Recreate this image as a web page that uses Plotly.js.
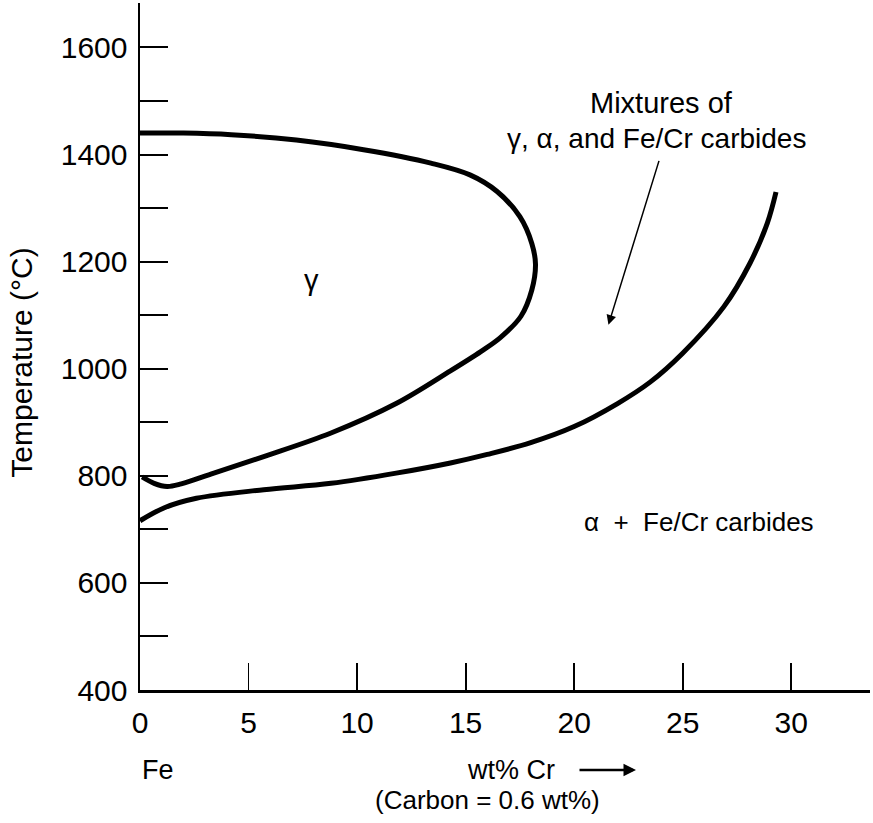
<!DOCTYPE html>
<html>
<head>
<meta charset="utf-8">
<script src="https://cdn.plot.ly/plotly-3.0.1.min.js"></script>
<style>html,body{margin:0;padding:0;background:#fff;}#chart{width:873px;height:823px;}</style>
</head>
<body>
<div id="chart"></div>
<script>
// gamma loop boundary (wt% Cr, °C), traced from top left, round the nose, back to the axis
const gammaCr   = [0, 2.0, 4.2, 7.2, 10.3, 13.4, 15.2, 16.45, 17.5, 18.05, 18.22, 18.05, 17.55, 16.6, 15.7, 14.3, 11.8, 8.8, 5.7, 3.4, 1.9, 1.25, 0.65, 0.1];
const gammaT    = [1440, 1440, 1437, 1427, 1409, 1384, 1362, 1331, 1284, 1234, 1195, 1147, 1098, 1058, 1032, 996, 935, 880, 836, 805, 785, 780, 786, 798];
// lower boundary (alpha + carbides)
const lowerCr   = [0, 1.1, 2.6, 5.7, 8.8, 11.8, 14.3, 16.0, 18.0, 20.0, 22.0, 23.5, 25.0, 26.9, 28.1, 28.9, 29.3];
const lowerT    = [716, 740, 758, 774, 786, 805, 824, 840, 862, 892, 935, 975, 1029, 1116, 1197, 1272, 1330];
// axis ticks
const yTickVals = [400, 500, 600, 700, 800, 900, 1000, 1100, 1200, 1300, 1400, 1500, 1600];
const yTickText = ['400', '', '600', '', '800', '', '1000', '', '1200', '', '1400', '', '1600'];
const xTickVals = [0, 5, 10, 15, 20, 25, 30];
const xTickText = ['0', '5', '10', '15', '20', '25', '30'];

const FONT = 'Liberation Sans, Arial, Helvetica, sans-serif';

const traces = [
  {x: gammaCr, y: gammaT, mode: 'lines', line: {color: '#000', width: 5, shape: 'spline', smoothing: 1.0}, hoverinfo: 'skip', cliponaxis: false},
  {x: lowerCr, y: lowerT, mode: 'lines', line: {color: '#000', width: 5, shape: 'spline', smoothing: 1.0}, hoverinfo: 'skip', cliponaxis: false}
];

const layout = {
  width: 873, height: 823,
  margin: {l: 140, r: 3, t: 3, b: 133},
  paper_bgcolor: '#fff', plot_bgcolor: '#fff',
  showlegend: false,
  font: {family: FONT, color: '#000', size: 28},
  xaxis: {
    range: [0, 33.63], showgrid: false, zeroline: false,
    showline: true, linecolor: '#000', linewidth: 2.5,
    ticks: 'inside', ticklen: 27, tickwidth: 1.8, tickcolor: '#000',
    tickvals: xTickVals, ticktext: xTickText,
    tickfont: {family: FONT, size: 30, color: '#000'},
    ticklabelstandoff: 4
  },
  yaxis: {
    range: [400, 1683], showgrid: false, zeroline: false,
    showline: true, linecolor: '#000', linewidth: 2.5,
    ticks: 'inside', ticklen: 28, tickwidth: 2, tickcolor: '#000',
    tickvals: yTickVals, ticktext: yTickText,
    tickfont: {family: FONT, size: 30, color: '#000'},
    ticklabelstandoff: 4
  },
  annotations: [
    {text: 'Temperature (°C)', xref: 'paper', yref: 'paper', x: -0.162, y: 0.476, xanchor: 'center', yanchor: 'middle', textangle: -90, showarrow: false, font: {size: 30}},
    {text: 'γ', xref: 'x', yref: 'y', x: 7.9, y: 1165, showarrow: false, font: {size: 29}},
    {text: 'Mixtures of', xref: 'x', yref: 'y', x: 24.04, y: 1496, showarrow: false, font: {size: 29}},
    {text: 'γ, α, and Fe/Cr carbides', xref: 'x', yref: 'y', x: 23.8, y: 1430, showarrow: false, font: {size: 28}},
    {text: '', xref: 'x', yref: 'y', x: 21.58, y: 1082, axref: 'x', ayref: 'y', ax: 23.93, ay: 1391, showarrow: true, arrowhead: 2, arrowsize: 1.3, arrowwidth: 1.5, arrowcolor: '#000'},
    {text: 'α  +  Fe/Cr carbides', xref: 'x', yref: 'y', x: 25.77, y: 714, showarrow: false, font: {size: 26}},
    {text: 'Fe', xref: 'x', yref: 'paper', x: 0.85, y: -0.1164, yanchor: 'middle', showarrow: false, font: {size: 27}},
    {text: 'wt% Cr', xref: 'x', yref: 'paper', x: 19.2, y: -0.1164, xanchor: 'right', yanchor: 'middle', showarrow: false, font: {size: 27}},
    {text: '', xref: 'x', yref: 'paper', x: 22.85, y: -0.1164, ax: -58, ay: 0, showarrow: true, arrowhead: 2, arrowsize: 1, arrowwidth: 2.5, arrowcolor: '#000'},
    {text: '(Carbon = 0.6 wt%)', xref: 'x', yref: 'paper', x: 16.0, y: -0.160, yanchor: 'middle', showarrow: false, font: {size: 26}}
  ]
};

Plotly.newPlot('chart', traces, layout, {staticPlot: true, displayModeBar: false});
</script>
</body>
</html>
